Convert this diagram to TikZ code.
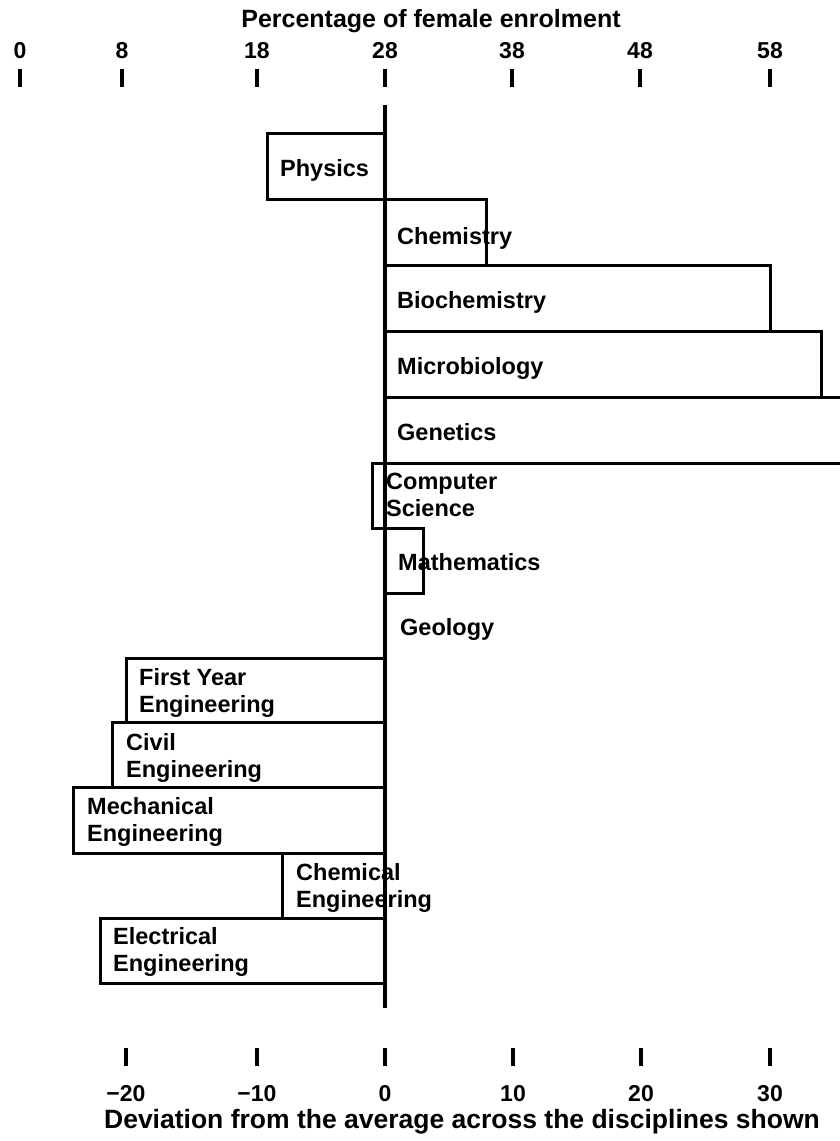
\documentclass[tikz,border=0pt]{standalone}
\usepackage{fontspec}
\setmainfont{Liberation Sans}
\begin{document}
\begin{tikzpicture}[x=1pt,y=-1pt,
  axisline/.style={line width=3.2pt},
  tick/.style={line width=3.2pt},
  bar/.style={draw, line width=3pt, line join=miter},
  lbl/.style={font=\bfseries\fontsize{23.5}{27}\selectfont, inner sep=0pt, align=left, anchor=base west},
  num/.style={font=\bfseries\fontsize{23}{27}\selectfont, inner sep=0pt, anchor=base},
  ttl/.style={font=\bfseries\fontsize{25}{28}\selectfont, inner sep=0pt, anchor=base}]
\useasboundingbox (0,0) rectangle (840,1141);
\fill[white] (0,0) rectangle (840,1141);
\clip (0,0) rectangle (840,1141);

% top scale: percentage of female enrolment
\node[ttl] (toptitle) at (431,27) {Percentage of female enrolment};
\foreach \x/\v [count=\i] in {20/0,122/8,257/18,385/28,512/38,640/48,770/58}{
  \node[num] (top\i) at (\x,58) {\v};
  \draw[tick] (\x,69) -- (\x,87);
}

% bars, measured from the average (zero line at x = 385)
\draw[bar] (267,133) rectangle (385,199);   % Physics
\draw[bar] (385,199) rectangle (486,265);   % Chemistry
\draw[bar] (385,265) rectangle (770,331);   % Biochemistry
\draw[bar] (385,331) rectangle (821,397);   % Microbiology
\draw[bar] (385,397) rectangle (860,463);   % Genetics
\draw[bar] (372,463) rectangle (385,528);   % Computer Science
\draw[bar] (385,528) rectangle (423,593);   % Mathematics
\draw[bar] (126,658) rectangle (385,722);   % First Year Engineering
\draw[bar] (112,722) rectangle (385,787);   % Civil Engineering
\draw[bar] (73,787) rectangle (385,853);    % Mechanical Engineering
\draw[bar] (282,853) rectangle (385,918);   % Chemical Engineering
\draw[bar] (100,918) rectangle (385,983);   % Electrical Engineering

% zero line
\coordinate (ztop) at (385,105);
\coordinate (zbot) at (385,1008);
\draw[axisline] (ztop) -- (zbot);

% discipline labels (two-line labels are placed by their last baseline)
\node[lbl] (physics) at (280,176) {Physics};
\node[lbl] (chem) at (397,244) {Chemistry};
\node[lbl] (biochem) at (397,308) {Biochemistry};
\node[lbl] (micro) at (397,374) {Microbiology};
\node[lbl] (genetics) at (397,440) {Genetics};
\node[lbl] (compsci) at (386,516) {Computer\\Science};
\node[lbl] (maths) at (398,570) {Mathematics};
\node[lbl] (geology) at (400,635) {Geology};
\node[lbl] (firsteng) at (139,712) {First Year\\Engineering};
\node[lbl] (civileng) at (126,777) {Civil\\Engineering};
\node[lbl] (mecheng) at (87,841) {Mechanical\\Engineering};
\node[lbl] (chemeng) at (296,907) {Chemical\\Engineering};
\node[lbl] (eleceng) at (113,971) {Electrical\\Engineering};

% bottom scale: deviation from the average
\foreach \x/\v [count=\i] in {126/{−20},257/{−10},385/0,513/10,641/20,770/30}{
  \draw[tick] (\x,1048) -- (\x,1066);
  \node[num] (bot\i) at (\x,1101) {\v};
}
\node[ttl, font=\bfseries\fontsize{26.5}{28}\selectfont] (bottitle) at (462,1128) {Deviation from the average across the disciplines shown};
\end{tikzpicture}
\end{document}
